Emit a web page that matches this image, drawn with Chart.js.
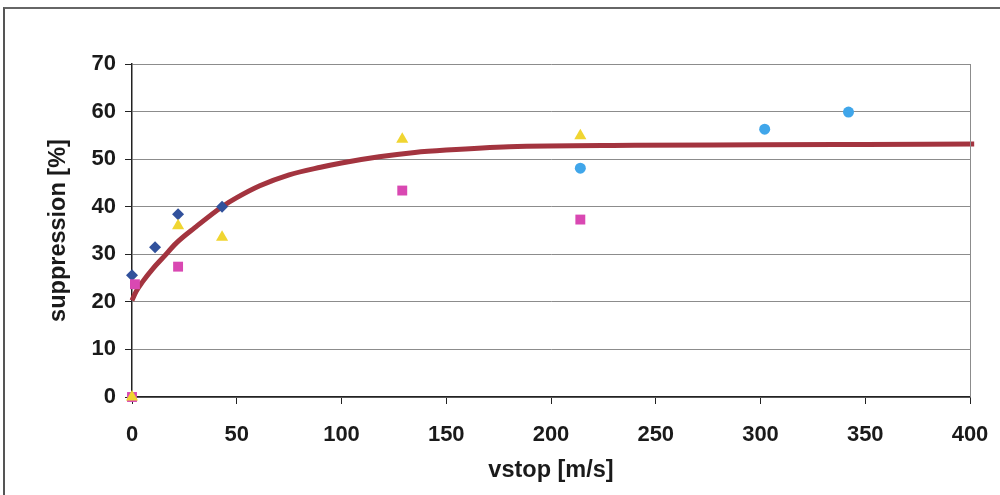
<!DOCTYPE html>
<html>
<head>
<meta charset="utf-8">
<script src="https://cdn.jsdelivr.net/npm/chart.js@4.4.0/dist/chart.umd.min.js"></script>
<style>
  html, body { margin: 0; padding: 0; background: #fff; }
  #frame { position: absolute; left: 3px; top: 7px; width: 1100px; height: 600px;
           border-left: 2px solid #555; border-top: 2px solid #666; }
  #wrap { position: absolute; left: 0; top: 0; width: 1000px; height: 495px; }
</style>
</head>
<body>
<div id="frame"></div>
<div id="wrap"><canvas id="chart" width="1000" height="495"></canvas></div>
<script>
// measured points (vstop m/s, suppression %)
var diamondX = [0, 11, 22, 43];
var diamondY = [25.6, 31.5, 38.4, 40.0];

var squareX = [0, 1.4, 22, 129, 214];
var squareY = [0, 23.7, 27.4, 43.4, 37.3];

var triangleX = [0, 22, 43, 129, 214];
var triangleY = [0, 36.0, 33.6, 54.2, 54.9];

var circleX = [214, 302, 342];
var circleY = [48.1, 56.3, 59.9];

// fitted curve
var curveX = [0, 2, 5, 10, 15, 21, 30, 43, 50, 61, 75, 90, 100, 118, 135, 150, 180, 240, 300, 350, 402];
var curveY = [20.3, 22.2, 24.2, 27.0, 29.4, 32.3, 35.6, 40.0, 41.9, 44.4, 46.7, 48.3, 49.2, 50.5, 51.4, 51.9, 52.6, 52.9, 53.0, 53.1, 53.2];

var xTicks = [0, 50, 100, 150, 200, 250, 300, 350, 400];
var yTicks = [0, 10, 20, 30, 40, 50, 60, 70];

function pts(xs, ys) {
    return xs.map(function (x, i) { return { x: x, y: ys[i] }; });
}

var font = { family: "'Liberation Sans', Arial, sans-serif", size: 22, weight: "bold" };
var titleFont = { family: "'Liberation Sans', Arial, sans-serif", size: 23.5, weight: "bold" };

// right edge of the plot area
var rightEdge = {
    id: "rightEdge",
    afterDraw: function (chart) {
        var a = chart.chartArea, c = chart.ctx;
        c.save();
        c.strokeStyle = "#8c8c8c";
        c.lineWidth = 1;
        c.beginPath();
        c.moveTo(a.right + 0.5, a.top);
        c.lineTo(a.right + 0.5, a.bottom);
        c.stroke();
        c.restore();
    }
};

new Chart(document.getElementById("chart"), {
    type: "scatter",
    data: {
        datasets: [
            { label: "triangles", data: pts(triangleX, triangleY), pointStyle: "triangle", clip: false,
              pointRadius: 7, backgroundColor: "#F0D531", borderColor: "#F0D531", borderWidth: 0 },
            { label: "squares", data: pts(squareX, squareY), pointStyle: "rect", clip: false,
              pointRadius: 7, backgroundColor: "#D948B2", borderColor: "#D948B2", borderWidth: 0 },
            { label: "diamonds", data: pts(diamondX, diamondY), pointStyle: "rectRot", clip: false,
              pointRadius: 6, backgroundColor: "#31519C", borderColor: "#31519C", borderWidth: 0 },
            { label: "circles", data: pts(circleX, circleY), pointStyle: "circle", clip: false,
              pointRadius: 5.5, backgroundColor: "#40A6EA", borderColor: "#40A6EA", borderWidth: 0 },
            { label: "fit", type: "line", data: pts(curveX, curveY), showLine: true, clip: false,
              borderColor: "#A3343F", borderWidth: 5, pointRadius: 0,
              cubicInterpolationMode: "monotone", fill: false }
        ]
    },
    options: {
        responsive: false,
        animation: false,
        layout: { padding: { left: 0, right: 30, top: 64, bottom: 0 } },
        plugins: { legend: { display: false }, tooltip: { enabled: false } },
        scales: {
            x: {
                type: "linear", min: 0, max: 400,
                afterBuildTicks: function (s) { s.ticks = xTicks.map(function (v) { return { value: v }; }); },
                afterFit: function (s) { s.height = 98; s.paddingLeft = 0; s.paddingRight = 0; },
                grid: { display: true, drawOnChartArea: false, drawTicks: true, tickLength: 7, color: "#222" },
                border: { color: "#222", width: 1.5 },
                ticks: { color: "#1a1a1a", font: font, padding: 18 },
                title: { display: true, text: "vstop [m/s]", color: "#1a1a1a", font: titleFont,
                         padding: { top: 0, bottom: 10 } }
            },
            y: {
                type: "linear", min: 0, max: 70,
                afterBuildTicks: function (s) { s.ticks = yTicks.map(function (v) { return { value: v }; }); },
                afterFit: function (s) { s.width = 132; },
                grid: { color: "#8c8c8c", lineWidth: 1, tickLength: 7, tickColor: "#222" },
                border: { color: "#222", width: 1.5 },
                ticks: { color: "#1a1a1a", font: font, padding: 9 },
                title: { display: true, text: "suppression [%]", color: "#1a1a1a", font: titleFont,
                         padding: { top: 44, bottom: 0 } }
            }
        }
    },
    plugins: [rightEdge]
});
</script>
</body>
</html>
